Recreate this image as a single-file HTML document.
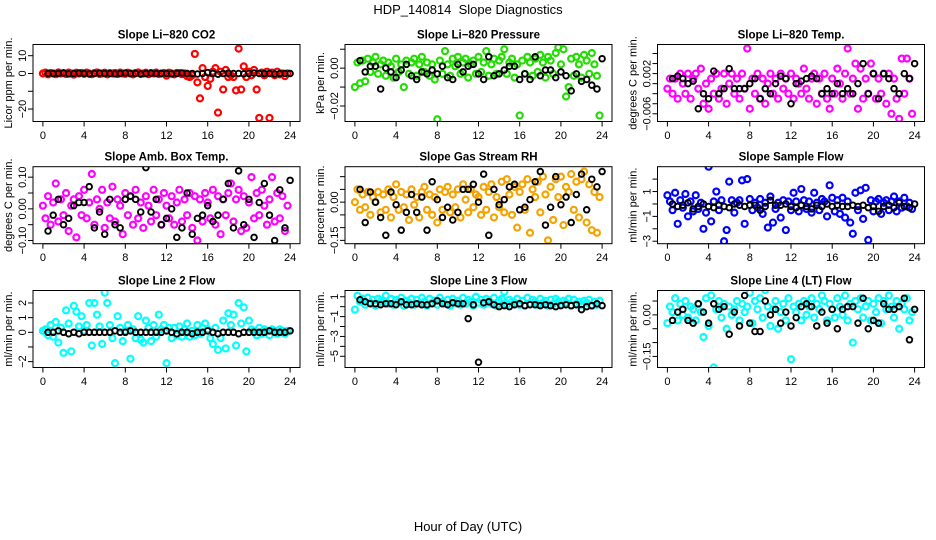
<!DOCTYPE html>
<html><head><meta charset="utf-8">
<style>
html,body{margin:0;padding:0;background:#fff;}
svg{display:block;font-family:"Liberation Sans",Arial,sans-serif;}
</style></head>
<body>
<svg id="chart" width="936" height="540" viewBox="0 0 936 540" xmlns="http://www.w3.org/2000/svg">
<rect width="936" height="540" fill="#fff"/>
<text x="468" y="14" text-anchor="middle" font-size="13">HDP_140814 &#160;Slope Diagnostics</text>
<text x="468" y="531" text-anchor="middle" font-size="13">Hour of Day (UTC)</text>
</svg>
<script>
// ---- data (colored = all slopes, black = half-hour slopes); hours spread evenly over 0-24 ----
const xTickValues=[0,4,8,12,16,20,24];
const xTickLabels=["0","4","8","12","16","20","24"];

const co2Colored=[0,0.5,-0.5,0.3,0,-0.4,0.6,0,0.2,-0.3,0.5,0,-0.6,0.4,0,0.3,-0.2,0.5,0,-0.4,0.2,0.6,-0.3,0,0.4,-0.5,0.2,0,0.3,-0.3,0.5,0,-0.2,0.4,0,-0.5,0.3,0.6,-0.2,0,0.4,-0.4,0.2,0,0.5,-0.3,0,0.3,-1.2,0.4,0,-0.5,0.3,0.2,-0.4,0,-1.5,-2,-1,11,-5,-14,3,-2,-7,-3,1,3,-22,1,-9,2,-2,-1,-2,-9.5,14,-9,4,-2,1,-1,2,-9,-25,0.5,-1,1,-25,0.5,-1,1,-0.5,0,-1.5,0];
const co2Black=[0,0,0,0.3,-0.2,0,0.2,0,-0.3,0,0.2,0,0,-0.2,0,0.3,0,0,-0.3,0,0.2,0,0,0,-0.2,0,0.3,0,0,-0.3,0,0.5,0,-0.4,0,0.2,0,0,-0.2,0,0.3,0,0,0,-0.2,0,0,0];

const presColored=[-0.01,0.003,-0.008,0.004,-0.007,0.005,-0.002,0.003,0.006,-0.003,0.002,0.004,-0.004,0.003,0.001,-0.005,0.005,-0.002,0.002,-0.01,0.004,-0.003,0.003,0.005,-0.004,0.002,0.006,-0.002,0.003,-0.004,0.002,-0.006,-0.027,0.004,-0.003,0.009,0.002,-0.004,0.005,0.001,0.006,-0.003,0.003,0.005,-0.005,0.002,0.004,-0.003,0.006,-0.002,0.003,0.009,-0.004,0.002,0.005,-0.003,0.004,0.006,0.01,-0.003,0.003,0.005,-0.005,0.002,-0.025,0.004,-0.003,0.006,0.003,-0.004,0.005,-0.002,0.007,0.003,-0.005,0.006,0.004,-0.003,0.008,0.011,0.002,0.01,-0.015,-0.01,0.005,-0.004,0.006,0.002,-0.005,0.007,0.004,-0.003,0.008,0.002,-0.004,-0.025];
const presBlack=[0.004,-0.002,0.001,0.001,-0.011,0,-0.002,-0.005,-0.001,0.002,-0.004,-0.006,-0.002,-0.003,-0.001,-0.003,0.001,-0.005,-0.006,0.002,-0.002,0.001,0.002,-0.003,-0.006,0.006,-0.004,-0.003,-0.001,0.001,0.001,-0.006,-0.003,-0.006,0.006,-0.004,-0.001,-0.001,-0.005,-0.002,-0.004,-0.012,-0.003,-0.007,-0.006,-0.009,-0.011,0.005];

const tempColored=[-0.001,0.001,-0.002,0.001,-0.003,0.002,0,-0.002,0.002,-0.003,0.001,0.002,-0.001,0.003,-0.004,0,-0.005,0.001,-0.002,0.002,-0.003,-0.001,0.002,-0.004,0,0.002,-0.002,0.001,-0.003,0.002,-0.001,0.007,-0.005,0.001,-0.002,0.002,-0.003,0.001,-0.004,0,0.002,-0.002,0.001,-0.003,0.002,-0.001,0.001,-0.002,0.002,-0.003,0.001,0,-0.002,0.003,-0.001,-0.003,0.001,0.002,-0.004,0.001,-0.002,0.002,-0.003,-0.005,0.001,-0.002,0.003,0,-0.003,0.002,0.007,-0.002,0.001,0.004,-0.005,0.003,-0.003,0.001,-0.002,0.004,0.002,-0.003,0.001,-0.002,0.002,-0.004,0.002,-0.006,0.001,-0.003,-0.007,0.005,-0.002,0.005,0.001,-0.006];
const tempBlack=[0.001,0.0015,0.001,0,0.0005,-0.005,-0.002,-0.003,0.0025,-0.002,-0.001,0.003,-0.001,-0.001,-0.001,0,0.001,-0.003,-0.001,-0.002,0,0.0015,0.001,-0.004,0,0.0005,0.001,0.0015,0.001,-0.002,-0.001,-0.002,0,-0.002,-0.001,-0.002,0,0.004,-0.002,0.002,-0.003,0.002,0.001,-0.001,-0.002,0.002,0.001,0.004];

const ambColored=[0.01,-0.03,0.04,-0.05,0.02,0.08,-0.04,0.03,-0.02,0.05,-0.07,0.01,0.03,-0.09,0.04,-0.02,0.06,-0.03,0.02,0.11,-0.05,0.03,0,0.06,-0.06,0.02,-0.03,0.07,-0.04,0.03,0.01,-0.08,0.05,-0.02,0.04,-0.05,0.06,-0.03,0.02,-0.06,0.04,0.01,-0.04,0.06,-0.02,0.03,-0.05,0.05,0.01,-0.03,0.04,-0.05,0.02,0.06,-0.04,0.03,-0.02,0.05,-0.06,0.04,-0.1,0.03,-0.04,0.05,0.02,-0.03,0.06,-0.05,0.04,-0.08,0.03,-0.02,0.05,0.08,-0.04,0.03,0.06,-0.07,0.04,-0.06,0.02,0.1,-0.03,0.05,-0.02,0.06,0.01,-0.05,0.03,0.1,-0.04,0.05,-0.03,0.04,-0.07,0.01];
const ambBlack=[-0.07,-0.02,0.03,-0.05,-0.03,0.01,0.02,0.02,0.07,-0.06,-0.01,-0.08,0.03,-0.05,-0.06,0.03,0.04,0.03,-0.01,0.13,-0.01,0.03,-0.05,-0.03,0,-0.09,-0.06,0.05,-0.08,-0.03,-0.02,0.01,-0.04,-0.02,0.03,0.08,-0.06,0.12,-0.05,0.03,-0.09,0.02,0.08,-0.02,-0.1,0.06,-0.06,0.09];

const rhColored=[0,0.05,-0.03,0.03,-0.02,0.04,-0.05,0.02,0,0.04,-0.04,0.03,-0.03,0.05,-0.06,0.02,0.07,-0.03,0.04,-0.02,0.03,-0.07,0.05,-0.01,0.02,-0.06,0.04,0.06,-0.03,0.03,-0.05,0.02,-0.08,0.05,-0.03,0.04,0.06,-0.04,0.03,-0.02,0.05,-0.06,0.07,0.01,-0.04,0.05,-0.02,0.03,0.02,-0.05,0.06,-0.03,0.04,0.07,-0.06,0.02,-0.02,0.08,-0.04,0.09,0.03,-0.05,0.06,-0.1,0.04,0.07,-0.03,0.09,-0.12,0.05,0.02,0.08,-0.04,0.1,0.03,-0.15,0.06,-0.07,0.09,0.02,0.1,-0.09,0.06,0.04,0.11,-0.03,0.08,-0.06,0.09,0.12,-0.08,0.07,-0.11,0.04,-0.12,0.02];
const rhBlack=[0.05,-0.08,0.04,0,-0.06,-0.13,0.04,-0.01,-0.11,-0.04,0.03,-0.04,0.02,-0.11,0.08,0.01,-0.06,-0.02,-0.07,-0.04,0.05,0.05,0.07,0,0.11,-0.13,0.05,-0.01,0.01,0.06,0.07,-0.03,-0.02,0.01,0.08,0.12,-0.09,-0.02,0.1,-0.01,0.02,-0.08,0.03,0.11,-0.03,0.09,0.06,0.12];

const sampleColored=[0.7,0.2,-0.5,0.9,-1.6,0.3,-0.3,0.8,-1,0.2,-0.6,0.7,-0.4,0.1,-2,-0.7,3,-1.4,0.2,1,-0.5,0.3,-3,-2.1,1.8,0.3,-0.7,0.1,0.3,1.9,-1.6,2,0.4,-0.5,0.1,-0.3,0.4,-0.8,0.1,-1.9,0.6,-1.5,-0.4,0.1,-1.1,0.3,-2.1,0.2,-0.5,0.9,0.2,-0.6,1.2,0.3,-0.4,0.2,-0.7,0.9,0.1,-0.5,0.4,0.2,-1,1.5,0.5,-0.6,0.3,-0.8,0.5,-1.1,0.2,-1.5,-2.4,0.9,-0.5,1.1,-1.2,1.3,-2.9,0.3,-0.6,0.2,0.4,-0.8,0.1,0.3,-0.5,0.2,0.6,-0.6,0.2,-0.3,0.5,-0.2,0.1,-0.4];
const sampleBlack=[0,-0.2,-0.1,0.1,-0.4,-0.2,0,-0.2,-0.3,-0.1,-0.2,-0.3,0,-0.1,-0.2,-0.1,-0.1,-0.5,-0.2,0.3,-0.1,-0.1,0,-0.2,-0.3,-0.1,-0.2,-0.4,-0.1,-0.2,0,-0.2,-0.1,-0.2,-0.2,-0.1,-0.2,-0.1,-0.3,-0.2,-0.6,-0.2,-0.1,-0.3,0.1,-0.2,-0.3,0];

const line2Colored=[0.1,0.2,-0.2,0.5,-0.3,0.7,-0.7,0.3,-1.4,1.5,0.6,-1.3,1.8,1.4,0.4,1.1,0.1,0.5,2,-0.9,2,1.2,0.4,-0.8,2.7,2,0.5,-0.4,-2.1,1.1,0.3,-0.6,0.1,0.5,-1.8,0.2,-0.4,1.1,-0.5,-0.7,0.8,0.3,-0.6,0.5,-0.3,1.2,0.2,0.5,-2.1,0.3,-0.4,0.3,-0.2,0.4,-0.3,0.2,0.6,-0.3,0.1,-0.2,0.5,-0.1,0.3,0.6,0.2,-0.4,-0.8,0.3,-1.2,-0.4,0.8,-1.1,1.3,0.5,1.2,-0.9,2,0.6,1.7,-1.3,0.8,0.2,0.1,-0.2,0.3,-0.1,0.2,0.1,-0.2,0.2,0.1,-0.1,0.2,0.1,-0.1,0.1];
const line2Black=[0,0,0.1,0,-0.1,0,-0.1,0,0,0,0,0,0,0.1,0,0,0.1,0,0,0,0,0,0,0.1,0,-0.1,0,0,-0.1,0,0,0.1,0,-0.1,0,0,0,-0.1,0,0,0,0,0,0.1,0,0,0,0.1];

const line3Colored=[-0.3,1.1,0.5,0.8,0.2,0.9,0.4,0.7,0.1,0.8,0.5,0.6,1.1,0.3,0.8,0.2,0.7,0.5,0.9,0.1,0.6,0.4,0.8,0.2,0.7,0.3,0.9,0.5,0.1,0.8,0.4,0.6,0.2,0.9,0.5,0.3,0.7,0.1,0.8,0.4,0.6,0.2,0.9,0.3,0.7,0.5,0.1,1,0.4,0.7,0.2,0.8,0.5,0.3,0.9,0.1,0.6,0.8,1.5,0.2,0.7,0.5,0.4,0.8,0.2,0.6,0.1,0.9,0.3,0.7,0.5,0.2,0.8,0.4,0.6,0.1,0.7,0.3,0.8,0.5,0.2,0.6,0.4,0.8,0.1,0.7,0.3,0.5,0.2,0.6,0.4,0.7,0.1,0.5,0.2,0.6];
const line3Black=[0.7,0.5,0.3,0.3,0.2,0.3,0.3,0.2,0.5,0.2,0.2,0.3,0.2,0.2,0.3,0.6,0.3,0.2,0.4,0.3,0.3,-1.2,0.2,-5.6,0.4,0.5,0.2,0,0.1,0,0.2,0.3,0.1,0.2,0.2,0.1,0.2,0.1,0,0.1,0.2,0.1,0.2,-0.3,0,0.1,0.3,0.1];

const line4Colored=[-0.03,0.03,0.01,0.06,-0.02,0.04,0,0.05,-0.01,0.03,0.02,-0.02,0.04,0.01,-0.08,0.06,-0.04,0.07,-0.19,0.02,0.05,-0.01,0.04,-0.05,0.03,0,0.02,0.05,-0.02,0.04,0.01,0.03,0.08,-0.03,0.05,0.02,0.06,-0.01,0.09,0.03,-0.04,0.02,0.05,-0.05,0.01,0.04,-0.02,0.06,-0.16,0.03,0.01,0.04,-0.02,0.05,0,0.03,0.06,-0.01,0.04,0.02,0.07,0.05,-0.02,0.04,0.02,-0.01,0.06,0.03,0,0.07,-0.02,0.04,-0.1,0.05,0.02,0.06,-0.01,0.03,0.05,-0.02,0.04,0.01,0.06,-0.03,0.05,0.02,0.07,0.03,-0.01,0.05,-0.05,0.04,0.02,0.06,-0.02,0.01];
const line4Black=[-0.02,0.01,0.02,-0.02,-0.03,0.04,0.01,-0.03,0.04,0.02,0.03,-0.07,0.01,-0.04,0.07,-0.03,-0.06,-0.06,0.05,0,0.02,-0.03,0.01,-0.04,-0.01,0.03,0.04,0.03,-0.04,0.01,-0.03,0.02,-0.05,0.02,0.03,0.03,-0.03,0.06,-0.05,-0.02,-0.03,0.04,0.02,0.02,0.03,0.06,-0.09,0.02];

const co2Ticks=[10,0,-10,-20], co2TickLabels=["10","0","","\u221220"];
const presTicks=[0.01,0,-0.01,-0.02], presTickLabels=["","0.00","","\u22120.02"];
const tempTicks=[0.006,0.004,0.002,0,-0.002,-0.004,-0.006], tempTickLabels=["","","0.002","","","","\u22120.006"];
const ambTicks=[0.1,0.05,0,-0.05,-0.1], ambTickLabels=["0.10","","0.00","","\u22120.10"];
const rhTicks=[0.1,0.05,0,-0.05,-0.1,-0.15], rhTickLabels=["","","0.00","","","\u22120.15"];
const sampleTicks=[2,1,0,-1,-2,-3], sampleTickLabels=["","1","","\u22121","","\u22123"];
const line2Ticks=[2,1,0,-1,-2], line2TickLabels=["2","1","0","","\u22122"];
const line3Ticks=[1,0,-1,-2,-3,-4,-5], line3TickLabels=["1","","\u22121","","\u22123","","\u22125"];
const line4Ticks=[0.05,0,-0.05,-0.1,-0.15], line4TickLabels=["","0.00","","","\u22120.15"];

// ---- layout ----
const NS="http://www.w3.org/2000/svg";
const svg=document.getElementById('chart');
const colX=[33,345,657.5], rowY=[44.5,166.7,290.5], W=267, H=77;
const panels=[
 {key:'co2',title:'Slope Li\u2212820 CO2',ylab:'Licor ppm per min.',color:'#ff0000',ymin:-27,ymax:16.3,ticks:co2Ticks,labels:co2TickLabels,c:co2Colored,b:co2Black},
 {key:'pressure',title:'Slope Li\u2212820 Pressure',ylab:'kPa per min.',color:'#22dd00',ymin:-0.0282,ymax:0.0125,ticks:presTicks,labels:presTickLabels,c:presColored,b:presBlack},
 {key:'temp',title:'Slope Li\u2212820 Temp.',ylab:'degrees C per min.',color:'#ff00ff',ymin:-0.00754,ymax:0.0078,ticks:tempTicks,labels:tempTickLabels,c:tempColored,b:tempBlack},
 {key:'amb-temp',title:'Slope Amb. Box Temp.',ylab:'degrees C per min.',color:'#ff00ff',ymin:-0.11,ymax:0.133,ticks:ambTicks,labels:ambTickLabels,c:ambColored,b:ambBlack},
 {key:'rh',title:'Slope Gas Stream RH',ylab:'percent per min.',color:'#f5a300',ymin:-0.163,ymax:0.139,ticks:rhTicks,labels:rhTickLabels,c:rhColored,b:rhBlack},
 {key:'sample-flow',title:'Slope Sample Flow',ylab:'ml/min per min.',color:'#0000ff',ymin:-3.2,ymax:3.0,ticks:sampleTicks,labels:sampleTickLabels,c:sampleColored,b:sampleBlack},
 {key:'line2-flow',title:'Slope Line 2 Flow',ylab:'ml/min per min.',color:'#00ffff',ymin:-2.4,ymax:2.85,ticks:line2Ticks,labels:line2TickLabels,c:line2Colored,b:line2Black},
 {key:'line3-flow',title:'Slope Line 3 Flow',ylab:'ml/min per min.',color:'#00ffff',ymin:-6.13,ymax:1.63,ticks:line3Ticks,labels:line3TickLabels,c:line3Colored,b:line3Black},
 {key:'line4-flow',title:'Slope Line 4 (LT) Flow',ylab:'ml/min per min.',color:'#00ffff',ymin:-0.19,ymax:0.088,ticks:line4Ticks,labels:line4TickLabels,c:line4Colored,b:line4Black}
];
function mk(tag,attrs,parent){const e=document.createElementNS(NS,tag);for(const k in attrs)e.setAttribute(k,attrs[k]);parent.appendChild(e);return e;}

panels.forEach((p,i)=>{
 const x0=colX[i%3], y0=rowY[Math.floor(i/3)];
 const g=mk('g',{},svg);
 
 
 const xs=t=>x0+(t+0.96)/25.92*W;
 const ys=v=>y0+(p.ymax-v)/(p.ymax-p.ymin)*H;
 const clipId='clip'+i;
 const cp=mk('clipPath',{id:clipId},g); mk('rect',{x:x0,y:y0,width:W,height:H},cp);
 const t=mk('text',{x:x0+W/2,y:y0-6,'text-anchor':'middle','font-size':'11.5','font-weight':'bold'},g);
 t.textContent=p.title;
 
 
 const yl=mk('text',{x:0,y:0,'text-anchor':'middle','font-size':'11',transform:`translate(${x0-24},${y0+H/2}) rotate(-90)`,'dominant-baseline':'central'},g);
 yl.textContent=p.ylab;
 
 
 const mg=mk('g',{'clip-path':`url(#${clipId})`},g);
 
 
 p.c.forEach((v,k)=>{
  const c=mk('circle',{cx:xs(k*24/p.c.length),cy:ys(v),r:3,fill:'none',stroke:p.color,'stroke-width':2.2},mg);
  
  
 });
 p.b.forEach((v,k)=>{
  const c=mk('circle',{cx:xs(0.5+k*23.5/(p.b.length-1)),cy:ys(v),r:2.8,fill:'none',stroke:'#000','stroke-width':1.9},mg);
  
  
 });
 const box=mk('rect',{x:x0,y:y0,width:W,height:H,fill:'none',stroke:'#000','stroke-width':1},g);
 
 
 const xa=mk('g',{},g);
 
 
 mk('line',{x1:xs(xTickValues[0]),x2:xs(xTickValues[xTickValues.length-1]),y1:y0+H,y2:y0+H,stroke:'#000'},xa);
 xTickValues.forEach((tv,k)=>{
  mk('line',{x1:xs(tv),x2:xs(tv),y1:y0+H,y2:y0+H+5,stroke:'#000'},xa);
  const tl=mk('text',{x:xs(tv),y:y0+H+17.5,'text-anchor':'middle','font-size':'11'},xa);
  tl.textContent=xTickLabels[k];
  
  
 });
 const ya=mk('g',{},g);
 
 
 p.ticks.forEach((tv,k)=>{
  mk('line',{x1:x0-5,x2:x0,y1:ys(tv),y2:ys(tv),stroke:'#000'},ya);
  if(p.labels[k]){
   const tl=mk('text',{x:0,y:0,'text-anchor':'middle','font-size':'11','dominant-baseline':'central',transform:`translate(${x0-10},${ys(tv)}) rotate(-90)`},ya);
   tl.textContent=p.labels[k];
   
   
  }
 });
});
</script>
</body></html>
